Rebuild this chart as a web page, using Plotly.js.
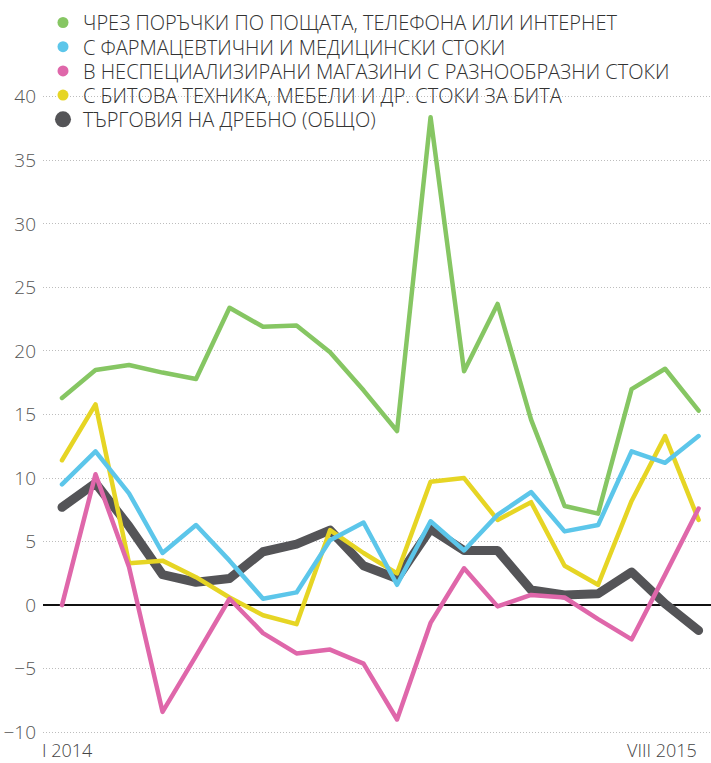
<!DOCTYPE html>
<html><head><meta charset="utf-8">
<script src="https://cdn.plot.ly/plotly-3.0.1.min.js"></script>
<style>html,body{margin:0;padding:0;background:#fff}#chart{width:711px;height:763px}
.scatterlayer path.js-line{stroke-linecap:round;stroke-linejoin:round}</style>
</head><body><div id="chart"></div>
<script>
const months = ['I 2014','II 2014','III 2014','IV 2014','V 2014','VI 2014','VII 2014','VIII 2014','IX 2014','X 2014','XI 2014','XII 2014','I 2015','II 2015','III 2015','IV 2015','V 2015','VI 2015','VII 2015','VIII 2015'];
const mailOrder = [16.3, 18.5, 18.9, 18.3, 17.8, 23.4, 21.9, 22.0, 19.9, 16.9, 13.7, 38.4, 18.4, 23.7, 14.6, 7.8, 7.2, 17.0, 18.6, 15.3];
const pharma = [9.5, 12.1, 8.8, 4.1, 6.3, 3.5, 0.5, 1.0, 5.1, 6.5, 1.6, 6.6, 4.3, 7.1, 8.9, 5.8, 6.3, 12.1, 11.2, 13.3];
const nonSpecialised = [0.0, 10.3, 3.0, -8.4, -4.0, 0.5, -2.2, -3.8, -3.5, -4.6, -9.0, -1.4, 2.9, -0.1, 0.8, 0.6, -1.1, -2.7, 2.4, 7.6];
const household = [11.4, 15.8, 3.3, 3.5, 2.2, 0.6, -0.8, -1.5, 5.9, 4.1, 2.5, 9.7, 10.0, 6.7, 8.1, 3.1, 1.6, 8.2, 13.3, 6.7];
const retailTotal = [7.7, 9.6, 6.2, 2.4, 1.8, 2.1, 4.2, 4.8, 5.9, 3.1, 2.1, 6.0, 4.3, 4.3, 1.2, 0.8, 0.9, 2.6, 0.1, -2.0];
const seriesNames = ['ЧРЕЗ ПОРЪЧКИ ПО ПОЩАТА, ТЕЛЕФОНА ИЛИ ИНТЕРНЕТ','С ФАРМАЦЕВТИЧНИ И МЕДИЦИНСКИ СТОКИ','В НЕСПЕЦИАЛИЗИРАНИ МАГАЗИНИ С РАЗНООБРАЗНИ СТОКИ','С БИТОВА ТЕХНИКА, МЕБЕЛИ И ДР. СТОКИ ЗА БИТА','ТЪРГОВИЯ НА ДРЕБНО (ОБЩО)'];
const tickLabels = ['I 2014','VIII 2015'];
const yTicks = [-10,-5,0,5,10,15,20,25,30,35,40];

const colors = ['#86c663','#5cc6ea','#df67aa','#e6d524','#545457'];
const widths = [4.5,4.5,4.5,4.5,9];
const values = [mailOrder, pharma, nonSpecialised, household, retailTotal];
const drawOrder = [4,3,1,2,0];
const legendIds = ['legend','legend2','legend3','legend4','legend5'];

const font = {family:'"Open Sans", "DejaVu Sans", sans-serif', weight:300};
const H = 763;
const legendRowTop = 22.5, legendRowGap = 24.2;

const traces = [];
drawOrder.forEach(i => traces.push({
  x: months, y: values[i], type:'scatter', mode:'lines', showlegend:false,
  line:{color:colors[i], width:widths[i]}, hoverinfo:'skip'
}));
seriesNames.forEach((n,i) => traces.push({
  x:[null], y:[null], type:'scatter', mode:'markers', name:n, showlegend:true,
  legend: legendIds[i],
  marker:{color:colors[i], size: i===4 ? 16 : 11}
}));

const layout = {
  width:711, height:H,
  margin:{l:43, r:0, t:93, b:27, autoexpand:false},
  paper_bgcolor:'#fff', plot_bgcolor:'#fff',
  showlegend:true,
  xaxis:{type:'category', range:[-0.567, 19.37], showgrid:false, zeroline:false,
    showticklabels:false, ticks:'', showline:false, fixedrange:true},
  yaxis:{range:[-10.3, 40.3], tickvals:yTicks, ticks:'', showline:false,
    showgrid:true, gridcolor:'#bdbdbd', gridwidth:1, griddash:'1px,2px',
    zeroline:true, zerolinecolor:'#111', zerolinewidth:2.5,
    tickfont:{...font, size:19, color:'#555'}, ticklabelstandoff:6, fixedrange:true},
  annotations: tickLabels.map((t,k) => ({
    text:t, xref:'x', yref:'paper', x: months.indexOf(t), y:0,
    xanchor: k===0 ? 'center' : 'right', yanchor:'top', yshift:0, xshift: k===0 ? 5 : 0,
    showarrow:false, font:{...font, size:18, color:'#444'}
  }))
};
legendIds.forEach((id,i) => {
  layout[id] = {x:0, xanchor:'left', xref:'paper', yref:'container',
    y: 1 - (legendRowTop + legendRowGap*i)/H, yanchor:'middle',
    bgcolor:'rgba(0,0,0,0)', font:{...font, size:20, color:'#333'},
    itemwidth:30};
});
Plotly.newPlot('chart', traces, layout, {displayModeBar:false, staticPlot:true});
</script></body></html>
